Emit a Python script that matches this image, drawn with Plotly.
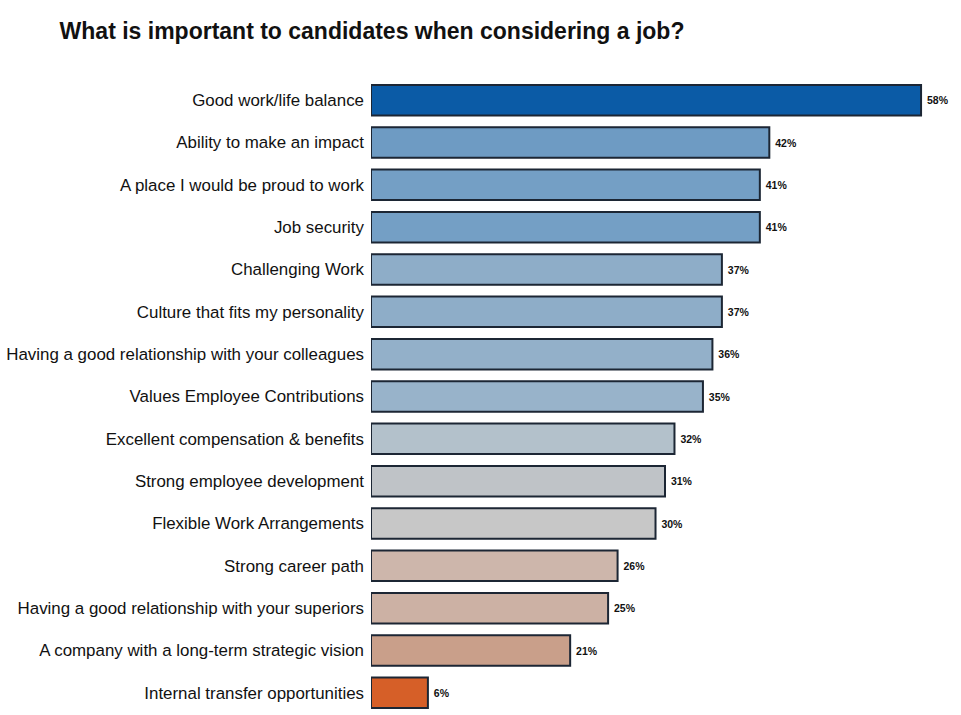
import plotly.graph_objects as go

categories = [
    "Good work/life balance",
    "Ability to make an impact",
    "A place I would be proud to work",
    "Job security",
    "Challenging Work",
    "Culture that fits my personality",
    "Having a good relationship with your colleagues",
    "Values Employee Contributions",
    "Excellent compensation & benefits",
    "Strong employee development",
    "Flexible Work Arrangements",
    "Strong career path",
    "Having a good relationship with your superiors",
    "A company with a long-term strategic vision",
    "Internal transfer opportunities",
]
values = [58, 42, 41, 41, 37, 37, 36, 35, 32, 31, 30, 26, 25, 21, 6]
bar_colors = [
    "#0b5ba6", "#6e9bc3", "#749fc5", "#749fc5", "#8eadc8", "#8eadc8",
    "#93b0c9", "#98b3ca", "#b3c1cb", "#bfc3c7", "#c7c7c7", "#cdb6ab",
    "#ccb1a4", "#c99f8a", "#d65f28",
]
title_text = "What is important to candidates when considering a job?"

fig = go.Figure(
    go.Bar(
        x=values,
        y=categories,
        orientation="h",
        marker=dict(color=bar_colors, line=dict(color="#1c2634", width=2)),
        width=0.72,
        text=[f"\u00a0{v}%" for v in values],
        textposition="outside",
        cliponaxis=False,
        textfont=dict(family="Liberation Sans, Arial", size=10.5, color="#111111", weight="bold"),
    )
)

fig.update_layout(
    width=961,
    height=715,
    paper_bgcolor="white",
    plot_bgcolor="white",
    margin=dict(l=371, r=2, t=79, b=1),
    title=dict(
        text=title_text,
        x=0.062,
        xanchor="left",
        y=0.957,
        yanchor="middle",
        font=dict(family="Liberation Sans, Arial", size=23, color="#111111", weight="bold"),
    ),
    showlegend=False,
    font=dict(family="Liberation Sans, Arial", size=16, color="#111111"),
)
fig.update_xaxes(range=[0, 62], visible=False, showgrid=False, zeroline=False)
fig.update_yaxes(
    autorange="reversed",
    showgrid=False,
    zeroline=False,
    showline=False,
    ticks="",
    ticklabelstandoff=6,
    tickfont=dict(family="Liberation Sans, Arial", size=16.9, color="#111111"),
)

fig.write_html("out.html")
